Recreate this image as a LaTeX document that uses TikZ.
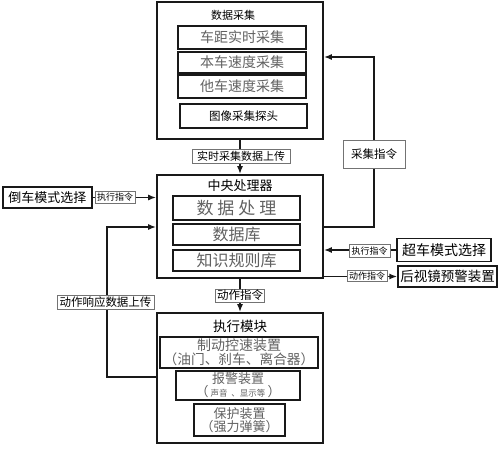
\documentclass[tikz,border=0pt]{standalone}
\usepackage{fontspec}
\setmainfont{Noto Sans CJK SC}
\usetikzlibrary{arrows.meta}
\definecolor{lineK}{rgb}{0.1,0.1,0.1}
\definecolor{textG}{rgb}{0.38,0.38,0.38}
\definecolor{tagG}{rgb}{0.45,0.45,0.45}

\begin{document}
\begin{tikzpicture}[x=1pt, y=-1pt, >={Latex[length=8pt,width=6pt]},
  outerbox/.style={draw=lineK, line width=1.6pt, inner sep=0pt},
  innerbox/.style={draw=lineK, line width=1.2pt, inner sep=0pt, align=center},
  tagbox/.style={draw=tagG, line width=0.7pt, fill=white, inner sep=0pt},
  conn/.style={draw=lineK, line width=1.6pt}]
\useasboundingbox (0,0) rectangle (498,450);
% ---------- 数据采集 ----------
\node[outerbox, minimum width=166, minimum height=137] (daq) at (240,70.5) {};
\node (daqT) at (233,15) {\fontsize{11}{12}\selectfont 数据采集};
\node[innerbox, minimum width=128, minimum height=23, text=textG] (daq1) at (242,37.5) {\fontsize{14}{15}\selectfont 车距实时采集};
\node[innerbox, minimum width=128, minimum height=21, text=textG] (daq2) at (242,62.5) {\fontsize{14}{15}\selectfont 本车速度采集};
\node[innerbox, minimum width=128, minimum height=23, text=textG] (daq3) at (242,86.5) {\fontsize{14}{15}\selectfont 他车速度采集};
\node[innerbox, minimum width=127, minimum height=24] (daq4) at (243.5,116) {\fontsize{11.5}{12}\selectfont 图像采集探头};
% ---------- 中央处理器 ----------
\node[outerbox, minimum width=166, minimum height=103] (cpu) at (240,226.5) {};
\node (cpuT) at (240,186) {\fontsize{13}{14}\selectfont 中央处理器};
\node[innerbox, minimum width=127, minimum height=24, text=textG] (cpu1) at (236.5,208) {\fontsize{17}{18}\selectfont 数\hspace{4pt}据\hspace{4pt}处\hspace{4pt}理};
\node[innerbox, minimum width=127, minimum height=21, text=textG] (cpu2) at (236.5,234.5) {\fontsize{16}{17}\selectfont 数据库};
\node[innerbox, minimum width=127, minimum height=21, text=textG] (cpu3) at (236.5,260.5) {\fontsize{16}{17}\selectfont 知识规则库};
% ---------- 执行模块 ----------
\node[outerbox, minimum width=166, minimum height=130] (exec) at (240,378) {};
\node (execT) at (240,326) {\fontsize{13.5}{14}\selectfont 执行模块};
\node[innerbox, minimum width=158, minimum height=31, text=textG] (exec1) at (239,352.5) {\fontsize{14}{17}\selectfont 制动控速装置\\ \fontsize{13.7}{17}\selectfont （油门、刹车、离合器）};
\node[innerbox, minimum width=124, minimum height=29, text=textG] (exec2) at (238,385.5) {\fontsize{13}{15}\selectfont 报警装置\\ \fontsize{13}{15}\selectfont （\hspace{2pt}{\fontsize{8.5}{10}\selectfont 声音\hspace{4pt}、显示等}\hspace{2pt}）};
\node[innerbox, minimum width=91, minimum height=32, text=textG] (exec3) at (239.5,420) {\fontsize{13}{15}\selectfont 保护装置\\ \fontsize{13}{15}\selectfont （强力弹簧）};
% ---------- 外部模块 ----------
\node[innerbox, line width=1.4pt, minimum width=89, minimum height=21] (dao) at (47.5,197.5) {\fontsize{13}{14}\selectfont 倒车模式选择};
\node[innerbox, line width=1.4pt, minimum width=94, minimum height=23] (chao) at (444,250) {\fontsize{14}{15}\selectfont 超车模式选择};
\node[innerbox, line width=1.4pt, minimum width=99, minimum height=21] (hsj) at (447.5,276.5) {\fontsize{13.5}{14}\selectfont 后视镜预警装置};
% ---------- 连线 ----------
\coordinate (cmdTop) at (374,57);
\coordinate (cmdBot) at (374,227);
\coordinate (fbTop) at (107,227);
\coordinate (fbBot) at (107,377);
\draw[conn,->] (daq.south) -- (cpu.north);
\draw[conn,->] (cpu.east |- cmdBot) -- (cmdBot) -- (cmdTop) -- (daq.east |- cmdTop);
\draw[conn,->] (dao.east) -- (cpu.west |- dao.east);
\draw[conn,->] (chao.west) -- (cpu.east |- chao.west);
\draw[conn,->] (cpu.east |- hsj.west) -- (hsj.west);
\draw[conn,->] (cpu.south) -- (exec.north);
\draw[conn,->] (exec.west |- fbBot) -- (fbBot) -- (fbTop) -- (cpu.west |- fbTop);
% 标签
\node[tagbox, minimum width=98, minimum height=14] (upTag) at (241,156) {\fontsize{11}{12}\selectfont 实时采集数据上传};
\node[tagbox, minimum width=62, minimum height=28] (cmdTag) at (374,154) {\fontsize{11.5}{12}\selectfont 采集指令};
\node[tagbox, minimum width=40, minimum height=12] (daoTag) at (115,197) {\fontsize{9}{10}\selectfont 执行指令};
\node[tagbox, minimum width=41, minimum height=13] (chaoTag) at (369.5,251) {\fontsize{9}{10}\selectfont 执行指令};
\node[tagbox, minimum width=40, minimum height=11] (hsjTag) at (367,276) {\fontsize{9}{10}\selectfont 动作指令};
\node[tagbox, minimum width=49, minimum height=13] (actTag) at (240,295.5) {\fontsize{11.5}{12}\selectfont 动作指令};
\node[tagbox, minimum width=97, minimum height=14] (fbTag) at (105.5,302) {\fontsize{11.5}{12}\selectfont 动作响应数据上传};
\end{tikzpicture}
\end{document}
